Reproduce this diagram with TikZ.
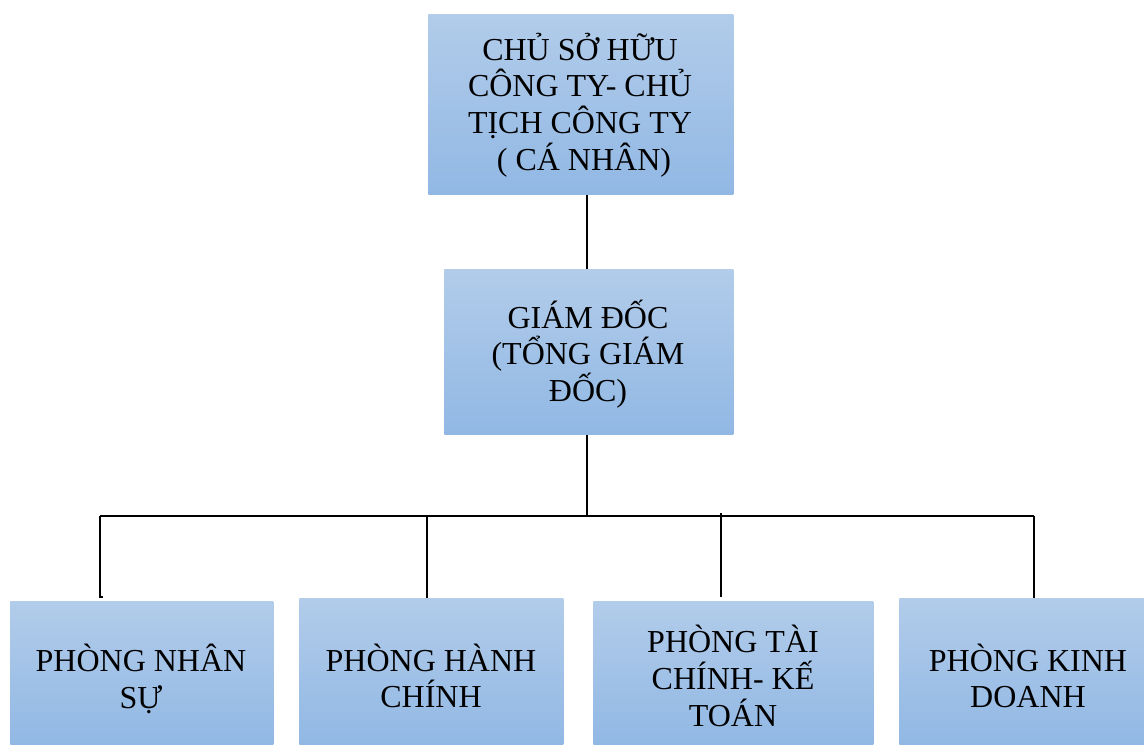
\documentclass[tikz,border=0pt]{standalone}
\usepackage{fontspec}
\setmainfont{Liberation Serif}
\definecolor{boxtop}{RGB}{178,204,234}
\definecolor{boxbot}{RGB}{145,184,228}
\tikzset{
  box/.style={draw=none, top color=boxtop, bottom color=boxbot, anchor=north west, inner sep=0pt},
  txt/.style={align=center, font=\fontsize{24}{27.5}\selectfont, inner sep=0pt, text=black},
  conn/.style={draw=black, line width=0.9pt}
}
\begin{document}
\begin{tikzpicture}[x=0.75pt,y=-0.75pt]
\useasboundingbox (0,0) rectangle (1144,744);
% boxes
\node[box, minimum width=305*0.75pt, minimum height=180*0.75pt] (top) at (428,14) {};
\node[box, minimum width=289*0.75pt, minimum height=165*0.75pt] (mid) at (444,269) {};
\node[box, minimum width=263*0.75pt, minimum height=143*0.75pt] (b1) at (10,601) {};
\node[box, minimum width=264*0.75pt, minimum height=146*0.75pt] (b2) at (299,598) {};
\node[box, minimum width=280*0.75pt, minimum height=143*0.75pt] (b3) at (593,601) {};
\node[box, minimum width=245*0.75pt, minimum height=146*0.75pt] (b4) at (899,598) {};
% texts
\node[txt] (ttop) at (580,105) {CHỦ SỞ HỮU\\CÔNG TY- CHỦ\\TỊCH CÔNG TY\\~( CÁ NHÂN)};
\node[txt] (tmid) at (588,354) {GIÁM ĐỐC\\(TỔNG GIÁM\\ĐỐC)};
\node[txt] (tb1) at (141,679) {PHÒNG NHÂN\\SỰ};
\node[txt] (tb2) at (431,676) {PHÒNG HÀNH\\CHÍNH};
\node[txt] (tb3) at (733,676) {PHÒNG TÀI\\CHÍNH- KẾ\\TOÁN};
\node[txt] (tb4) at (1028,676) {PHÒNG KINH\\DOANH};
% connectors
\coordinate (bus) at (587,516);
\coordinate (busL) at (100,516);
\coordinate (busR) at (1034,516);
\coordinate (c3top) at (721,513);
\draw[conn] (top.south -| bus) -- (mid.north -| bus);
\draw[conn] (mid.south -| bus) -- (bus);
\draw[conn] (busL) -- (busR);
\draw[conn] (busL) -- (100,597) -- (103,597);
\draw[conn] (427,516) -- (b2.north -| 427,0);
\draw[conn] (c3top) -- (721,597);
\draw[conn] (busR) -- (b4.north -| busR);
\end{tikzpicture}
\end{document}
